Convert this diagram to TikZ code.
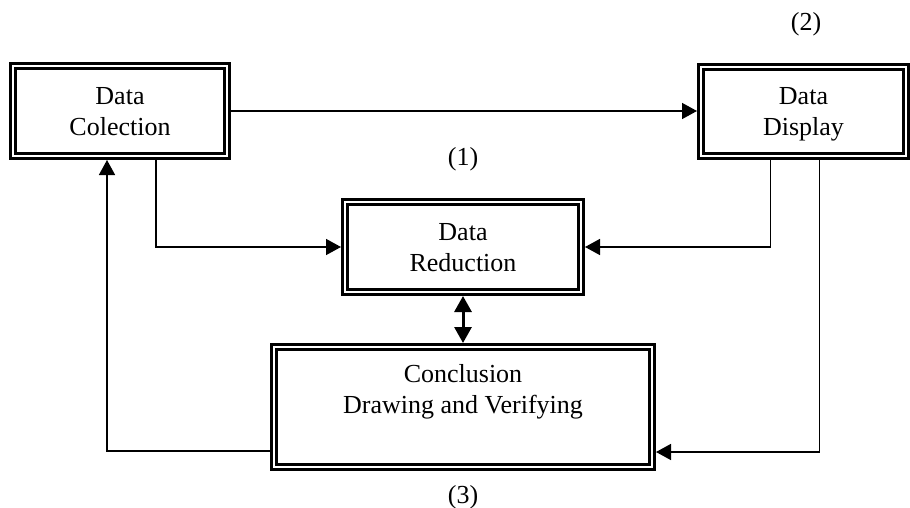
\documentclass[tikz,border=0pt]{standalone}
\usepackage{fontspec}
\setmainfont{Liberation Serif}
\usetikzlibrary{arrows.meta}

\begin{document}
\begin{tikzpicture}[x=1pt,y=-1pt,
    box/.style={draw,double,line width=2.6pt,double distance=2.8pt,
      inner sep=0pt,outer sep=4pt,align=center,text depth=0pt,
      font=\fontsize{26}{31}\selectfont},
    conn/.style={line width=1.5pt},
    >={Triangle[length=15pt,width=16pt]}]
  \useasboundingbox (0,0) rectangle (910,508);
  \node[box,minimum width=214pt,minimum height=90pt] (col) at (120,111) {Data\\Colection};
  \node[box,minimum width=205pt,minimum height=89pt] (disp) at (803.5,111.5) {Data\\Display};
  \node[box,minimum width=236pt,minimum height=90pt] (red) at (463,247) {Data\\Reduction};
  \node[box,minimum width=378pt,minimum height=120pt,text depth=36pt] (conc) at (463,407)
    {Conclusion\\Drawing and Verifying};
  \foreach \n/\x/\y in {1/463/159,2/806/24,3/463/497}
    \node[font=\fontsize{26}{31}\selectfont] (num\n) at (\x,\y) {(\n)};
  % connectors
  \draw[conn,->] (col.east) -- (col.east -| disp.west);
  \draw[conn,->] ([xshift=36pt]col.south) |- (red.west);
  \draw[conn,->] ([xshift=-33pt]disp.south) |- (red.east);
  \draw[conn,->] ([xshift=16pt]disp.south) |- ([yshift=-45pt]conc.east);
  \draw[conn,->] ([yshift=-44pt]conc.west) -| ([xshift=-13pt]col.south);
  \draw[conn,line width=3pt,<->,>={Triangle[length=16pt,width=17pt]}] (red.south) -- (conc.north);
\end{tikzpicture}
\end{document}
